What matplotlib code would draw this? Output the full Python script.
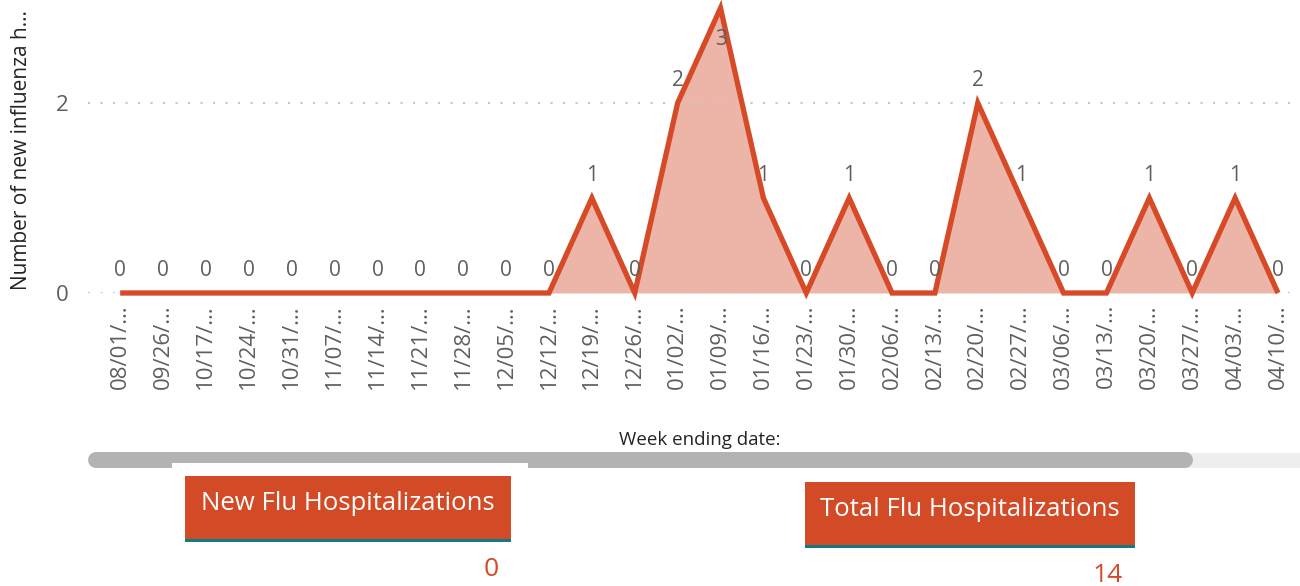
"""
Weekly new influenza hospitalizations - area chart with summary cards
"""
import matplotlib
matplotlib.use('Agg')
import matplotlib.pyplot as plt
from matplotlib.patches import Rectangle
from matplotlib.lines import Line2D

plt.rcParams['font.family'] = ['Open Sans', 'DejaVu Sans']

# Data
week_labels = ['08/01/…', '09/26/…', '10/17/…', '10/24/…', '10/31/…', '11/07/…',
               '11/14/…', '11/21/…', '11/28/…', '12/05/…', '12/12/…', '12/19/…',
               '12/26/…', '01/02/…', '01/09/…', '01/16/…', '01/23/…', '01/30/…',
               '02/06/…', '02/13/…', '02/20/…', '02/27/…', '03/06/…', '03/13/…',
               '03/20/…', '03/27/…', '04/03/…', '04/10/…']
new_cases = [0, 0, 0, 0, 0, 0, 0, 0, 0, 0, 0, 1, 0, 2, 3, 1, 0, 1, 0, 0, 2, 1,
             0, 0, 1, 0, 1, 0]
y_ticks = [0, 2]
card_titles = ['New Flu Hospitalizations', 'Total Flu Hospitalizations']
card_values = ['0', '14']

LINE = '#D64A27'
FILL = '#EDB5A8'
GRAY = '#605E5C'
DARK = '#252423'

W, H = 1300, 586
fig = plt.figure(figsize=(W / 100, H / 100), dpi=100)


def fx(x):
    return x / W


def fy(y):
    return 1 - y / H


# Main chart
ax = fig.add_axes([fx(88), fy(293), fx(1290 - 88), fy(8) - fy(293)])
xs = list(range(len(new_cases)))
ax.fill_between(xs, new_cases, 0, color=FILL, lw=0)
ax.plot(xs, new_cases, color=LINE, lw=3.8, solid_joinstyle='miter',
        solid_capstyle='butt', clip_on=False, zorder=3)

for yt in y_ticks:
    ax.axhline(yt, color='#C8C6C4', lw=1.5, linestyle=(0, (1, 5)), zorder=1)

ymax = max(new_cases)
for x, v in zip(xs, new_cases):
    dy = -23 if v == ymax else 16
    ax.annotate(str(v), (x, v), xytext=(0, dy), textcoords='offset points',
                ha='center', va='center', fontsize=15, color=GRAY, zorder=4)

ax.set_xlim(-0.75, len(new_cases) - 1 + 0.28)
ax.set_ylim(0, ymax)
ax.set_yticks(y_ticks)
ax.set_xticks(xs)
ax.set_xticklabels(week_labels, rotation=90, fontsize=16, color=GRAY)
ax.tick_params(axis='x', length=0, pad=8)
ax.tick_params(axis='y', length=0, pad=14, labelsize=16, labelcolor=GRAY)
for s in ax.spines.values():
    s.set_visible(False)
ax.patch.set_alpha(0)

fig.text(fx(22), fy(150), 'Number of new influenza h...', rotation=90,
         ha='center', va='center', fontsize=15, color=DARK)
fig.text(fx(700), fy(440), 'Week ending date:', ha='center', va='center',
         fontsize=13.5, color=DARK)

# Scroll bar
fig.add_artist(Rectangle((fx(1185), fy(468)), fx(115), fy(453) - fy(468),
                         transform=fig.transFigure, color='#EEEEEE', lw=0,
                         zorder=1))
fig.add_artist(Line2D([fx(96), fx(1185)], [fy(460), fy(460)],
                      transform=fig.transFigure, color='#B3B3B3', lw=11.5,
                      solid_capstyle='round', zorder=2))
fig.add_artist(Rectangle((fx(172), fy(470)), fx(356), fy(463) - fy(470),
                         transform=fig.transFigure, color='white', lw=0,
                         zorder=3))

# Cards
cards = [(185, 476, 326, 66, 491, 570), (805, 482, 330, 66, 1108, 575)]
for (cx, cy, cw, ch, vx, vy), title, val in zip(cards, card_titles, card_values):
    fig.add_artist(Rectangle((fx(cx), fy(cy + ch)), fx(cw), fy(cy) - fy(cy + ch),
                             transform=fig.transFigure, color='#D34A26', lw=0))
    fig.add_artist(Rectangle((fx(cx), fy(cy + ch)), fx(cw), fy(cy + ch - 3) - fy(cy + ch),
                             transform=fig.transFigure, color='#117A84', lw=0))
    fig.text(fx(cx + cw / 2), fy(cy + ch / 2 - 6), title, ha='center', va='center',
             fontsize=18.5, color='white')
    fig.text(fx(vx), fy(vy), val, ha='center', va='center', fontsize=19,
             color='#D34A26')

fig.savefig('out.png', dpi=100)
